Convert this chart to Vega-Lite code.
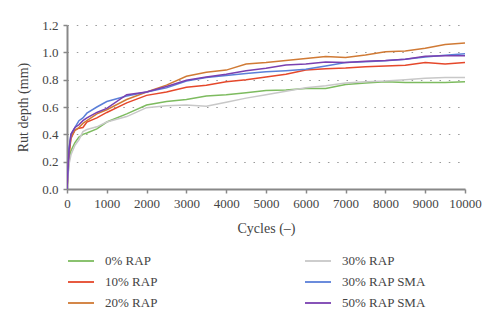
{
  "$schema": "https://vega.github.io/schema/vega-lite/v6.json",
  "autosize": "none",
  "width": 398,
  "height": 164,
  "padding": {"left": 67, "top": 25, "right": 35, "bottom": 135},
  "background": "white",
  "config": {
    "font": "Liberation Serif",
    "view": {"stroke": null},
    "axis": {"labelFont": "Liberation Serif", "titleFont": "Liberation Serif", "labelFontSize": 13, "titleFontSize": 14, "labelColor": "#444", "titleColor": "#444", "titleFontWeight": "normal"},
    "legend": {"labelFont": "Liberation Serif", "labelFontSize": 13, "labelColor": "#444"}
  },
  "datasets": {
    "rut": [
      {"series": "0% RAP", "cycles": 0, "rut": 0}, {"series": "0% RAP", "cycles": 50, "rut": 0.2}, {"series": "0% RAP", "cycles": 100, "rut": 0.28}, {"series": "0% RAP", "cycles": 200, "rut": 0.34}, {"series": "0% RAP", "cycles": 300, "rut": 0.38}, {"series": "0% RAP", "cycles": 400, "rut": 0.4}, {"series": "0% RAP", "cycles": 500, "rut": 0.41}, {"series": "0% RAP", "cycles": 750, "rut": 0.44}, {"series": "0% RAP", "cycles": 1000, "rut": 0.49}, {"series": "0% RAP", "cycles": 1500, "rut": 0.55}, {"series": "0% RAP", "cycles": 2000, "rut": 0.615}, {"series": "0% RAP", "cycles": 2500, "rut": 0.64}, {"series": "0% RAP", "cycles": 3000, "rut": 0.655}, {"series": "0% RAP", "cycles": 3500, "rut": 0.68}, {"series": "0% RAP", "cycles": 4000, "rut": 0.69}, {"series": "0% RAP", "cycles": 4500, "rut": 0.705}, {"series": "0% RAP", "cycles": 5000, "rut": 0.72}, {"series": "0% RAP", "cycles": 5500, "rut": 0.725}, {"series": "0% RAP", "cycles": 6000, "rut": 0.735}, {"series": "0% RAP", "cycles": 6500, "rut": 0.735}, {"series": "0% RAP", "cycles": 7000, "rut": 0.765}, {"series": "0% RAP", "cycles": 7500, "rut": 0.775}, {"series": "0% RAP", "cycles": 8000, "rut": 0.785}, {"series": "0% RAP", "cycles": 8500, "rut": 0.78}, {"series": "0% RAP", "cycles": 9000, "rut": 0.78}, {"series": "0% RAP", "cycles": 9500, "rut": 0.78}, {"series": "0% RAP", "cycles": 10000, "rut": 0.785},

      {"series": "10% RAP", "cycles": 0, "rut": 0}, {"series": "10% RAP", "cycles": 50, "rut": 0.25}, {"series": "10% RAP", "cycles": 100, "rut": 0.37}, {"series": "10% RAP", "cycles": 200, "rut": 0.43}, {"series": "10% RAP", "cycles": 300, "rut": 0.445}, {"series": "10% RAP", "cycles": 400, "rut": 0.45}, {"series": "10% RAP", "cycles": 500, "rut": 0.49}, {"series": "10% RAP", "cycles": 750, "rut": 0.52}, {"series": "10% RAP", "cycles": 1000, "rut": 0.56}, {"series": "10% RAP", "cycles": 1500, "rut": 0.63}, {"series": "10% RAP", "cycles": 2000, "rut": 0.685}, {"series": "10% RAP", "cycles": 2500, "rut": 0.71}, {"series": "10% RAP", "cycles": 3000, "rut": 0.745}, {"series": "10% RAP", "cycles": 3500, "rut": 0.76}, {"series": "10% RAP", "cycles": 4000, "rut": 0.785}, {"series": "10% RAP", "cycles": 4500, "rut": 0.8}, {"series": "10% RAP", "cycles": 5000, "rut": 0.82}, {"series": "10% RAP", "cycles": 5500, "rut": 0.84}, {"series": "10% RAP", "cycles": 6000, "rut": 0.87}, {"series": "10% RAP", "cycles": 6500, "rut": 0.88}, {"series": "10% RAP", "cycles": 7000, "rut": 0.885}, {"series": "10% RAP", "cycles": 7500, "rut": 0.895}, {"series": "10% RAP", "cycles": 8000, "rut": 0.9}, {"series": "10% RAP", "cycles": 8500, "rut": 0.905}, {"series": "10% RAP", "cycles": 9000, "rut": 0.925}, {"series": "10% RAP", "cycles": 9500, "rut": 0.915}, {"series": "10% RAP", "cycles": 10000, "rut": 0.925},

      {"series": "20% RAP", "cycles": 0, "rut": 0}, {"series": "20% RAP", "cycles": 50, "rut": 0.27}, {"series": "20% RAP", "cycles": 100, "rut": 0.38}, {"series": "20% RAP", "cycles": 200, "rut": 0.43}, {"series": "20% RAP", "cycles": 300, "rut": 0.45}, {"series": "20% RAP", "cycles": 400, "rut": 0.48}, {"series": "20% RAP", "cycles": 500, "rut": 0.5}, {"series": "20% RAP", "cycles": 750, "rut": 0.55}, {"series": "20% RAP", "cycles": 1000, "rut": 0.58}, {"series": "20% RAP", "cycles": 1500, "rut": 0.655}, {"series": "20% RAP", "cycles": 2000, "rut": 0.71}, {"series": "20% RAP", "cycles": 2500, "rut": 0.76}, {"series": "20% RAP", "cycles": 3000, "rut": 0.825}, {"series": "20% RAP", "cycles": 3500, "rut": 0.855}, {"series": "20% RAP", "cycles": 4000, "rut": 0.87}, {"series": "20% RAP", "cycles": 4500, "rut": 0.915}, {"series": "20% RAP", "cycles": 5000, "rut": 0.925}, {"series": "20% RAP", "cycles": 5500, "rut": 0.94}, {"series": "20% RAP", "cycles": 6000, "rut": 0.955}, {"series": "20% RAP", "cycles": 6500, "rut": 0.97}, {"series": "20% RAP", "cycles": 7000, "rut": 0.963}, {"series": "20% RAP", "cycles": 7500, "rut": 0.98}, {"series": "20% RAP", "cycles": 8000, "rut": 1.005}, {"series": "20% RAP", "cycles": 8500, "rut": 1.01}, {"series": "20% RAP", "cycles": 9000, "rut": 1.03}, {"series": "20% RAP", "cycles": 9500, "rut": 1.058}, {"series": "20% RAP", "cycles": 10000, "rut": 1.068},

      {"series": "30% RAP", "cycles": 0, "rut": 0}, {"series": "30% RAP", "cycles": 50, "rut": 0.18}, {"series": "30% RAP", "cycles": 100, "rut": 0.25}, {"series": "30% RAP", "cycles": 200, "rut": 0.32}, {"series": "30% RAP", "cycles": 300, "rut": 0.36}, {"series": "30% RAP", "cycles": 400, "rut": 0.42}, {"series": "30% RAP", "cycles": 500, "rut": 0.435}, {"series": "30% RAP", "cycles": 750, "rut": 0.455}, {"series": "30% RAP", "cycles": 1000, "rut": 0.49}, {"series": "30% RAP", "cycles": 1500, "rut": 0.53}, {"series": "30% RAP", "cycles": 2000, "rut": 0.595}, {"series": "30% RAP", "cycles": 2500, "rut": 0.61}, {"series": "30% RAP", "cycles": 3000, "rut": 0.615}, {"series": "30% RAP", "cycles": 3500, "rut": 0.605}, {"series": "30% RAP", "cycles": 4000, "rut": 0.635}, {"series": "30% RAP", "cycles": 4500, "rut": 0.665}, {"series": "30% RAP", "cycles": 5000, "rut": 0.69}, {"series": "30% RAP", "cycles": 5500, "rut": 0.715}, {"series": "30% RAP", "cycles": 6000, "rut": 0.74}, {"series": "30% RAP", "cycles": 6500, "rut": 0.755}, {"series": "30% RAP", "cycles": 7000, "rut": 0.775}, {"series": "30% RAP", "cycles": 7500, "rut": 0.785}, {"series": "30% RAP", "cycles": 8000, "rut": 0.79}, {"series": "30% RAP", "cycles": 8500, "rut": 0.8}, {"series": "30% RAP", "cycles": 9000, "rut": 0.81}, {"series": "30% RAP", "cycles": 9500, "rut": 0.815}, {"series": "30% RAP", "cycles": 10000, "rut": 0.815},

      {"series": "30% RAP SMA", "cycles": 0, "rut": 0}, {"series": "30% RAP SMA", "cycles": 50, "rut": 0.3}, {"series": "30% RAP SMA", "cycles": 100, "rut": 0.4}, {"series": "30% RAP SMA", "cycles": 200, "rut": 0.45}, {"series": "30% RAP SMA", "cycles": 300, "rut": 0.5}, {"series": "30% RAP SMA", "cycles": 400, "rut": 0.52}, {"series": "30% RAP SMA", "cycles": 500, "rut": 0.555}, {"series": "30% RAP SMA", "cycles": 750, "rut": 0.6}, {"series": "30% RAP SMA", "cycles": 1000, "rut": 0.64}, {"series": "30% RAP SMA", "cycles": 1500, "rut": 0.68}, {"series": "30% RAP SMA", "cycles": 2000, "rut": 0.71}, {"series": "30% RAP SMA", "cycles": 2500, "rut": 0.74}, {"series": "30% RAP SMA", "cycles": 3000, "rut": 0.79}, {"series": "30% RAP SMA", "cycles": 3500, "rut": 0.815}, {"series": "30% RAP SMA", "cycles": 4000, "rut": 0.83}, {"series": "30% RAP SMA", "cycles": 4500, "rut": 0.846}, {"series": "30% RAP SMA", "cycles": 5000, "rut": 0.858}, {"series": "30% RAP SMA", "cycles": 5500, "rut": 0.866}, {"series": "30% RAP SMA", "cycles": 6000, "rut": 0.876}, {"series": "30% RAP SMA", "cycles": 6500, "rut": 0.9}, {"series": "30% RAP SMA", "cycles": 7000, "rut": 0.925}, {"series": "30% RAP SMA", "cycles": 7500, "rut": 0.932}, {"series": "30% RAP SMA", "cycles": 8000, "rut": 0.939}, {"series": "30% RAP SMA", "cycles": 8500, "rut": 0.95}, {"series": "30% RAP SMA", "cycles": 9000, "rut": 0.965}, {"series": "30% RAP SMA", "cycles": 9500, "rut": 0.978}, {"series": "30% RAP SMA", "cycles": 10000, "rut": 0.99},

      {"series": "50% RAP SMA", "cycles": 0, "rut": 0}, {"series": "50% RAP SMA", "cycles": 50, "rut": 0.28}, {"series": "50% RAP SMA", "cycles": 100, "rut": 0.4}, {"series": "50% RAP SMA", "cycles": 200, "rut": 0.45}, {"series": "50% RAP SMA", "cycles": 300, "rut": 0.47}, {"series": "50% RAP SMA", "cycles": 400, "rut": 0.5}, {"series": "50% RAP SMA", "cycles": 500, "rut": 0.52}, {"series": "50% RAP SMA", "cycles": 750, "rut": 0.56}, {"series": "50% RAP SMA", "cycles": 1000, "rut": 0.59}, {"series": "50% RAP SMA", "cycles": 1500, "rut": 0.69}, {"series": "50% RAP SMA", "cycles": 2000, "rut": 0.71}, {"series": "50% RAP SMA", "cycles": 2500, "rut": 0.75}, {"series": "50% RAP SMA", "cycles": 3000, "rut": 0.795}, {"series": "50% RAP SMA", "cycles": 3500, "rut": 0.82}, {"series": "50% RAP SMA", "cycles": 4000, "rut": 0.84}, {"series": "50% RAP SMA", "cycles": 4500, "rut": 0.866}, {"series": "50% RAP SMA", "cycles": 5000, "rut": 0.883}, {"series": "50% RAP SMA", "cycles": 5500, "rut": 0.907}, {"series": "50% RAP SMA", "cycles": 6000, "rut": 0.915}, {"series": "50% RAP SMA", "cycles": 6500, "rut": 0.93}, {"series": "50% RAP SMA", "cycles": 7000, "rut": 0.925}, {"series": "50% RAP SMA", "cycles": 7500, "rut": 0.935}, {"series": "50% RAP SMA", "cycles": 8000, "rut": 0.94}, {"series": "50% RAP SMA", "cycles": 8500, "rut": 0.95}, {"series": "50% RAP SMA", "cycles": 9000, "rut": 0.972}, {"series": "50% RAP SMA", "cycles": 9500, "rut": 0.975}, {"series": "50% RAP SMA", "cycles": 10000, "rut": 0.975}
    ]
  },
  "data": {"name": "rut"},
  "mark": {"type": "line", "strokeWidth": 1.5, "clip": true},
  "encoding": {
    "x": {
      "field": "cycles", "type": "quantitative",
      "scale": {"domain": [0, 10000], "nice": false},
      "axis": {"title": "Cycles (–)", "values": [0,1000,2000,3000,4000,5000,6000,7000,8000,9000,10000], "format": "d", "grid": false, "domainColor": "#888", "domainWidth": 2, "tickColor": "#888", "tickWidth": 1.5, "tickSize": 4, "labelPadding": 4, "titlePadding": 11, "labelFlush": false}
    },
    "y": {
      "field": "rut", "type": "quantitative",
      "scale": {"domain": [0, 1.2], "nice": false},
      "axis": {"title": "Rut depth (mm)", "values": [0,0.2,0.4,0.6,0.8,1.0,1.2], "format": ".1f", "grid": true, "gridColor": "#999", "gridDash": [1.5, 7.8], "gridWidth": 1.2, "domainColor": "#888", "domainWidth": 2, "tickColor": "#888", "tickWidth": 1.5, "tickSize": 4, "labelPadding": 5, "titlePadding": 11}
    },
    "color": {
      "field": "series", "type": "nominal",
      "scale": {"domain": ["0% RAP", "10% RAP", "20% RAP", "30% RAP", "30% RAP SMA", "50% RAP SMA"], "range": ["#7dbb5f", "#e5482b", "#d07a35", "#c8c8c8", "#5b7fd8", "#7a40b0"]},
      "legend": {"title": null, "orient": "none", "legendX": 0, "legendY": 222, "columns": 2, "direction": "vertical", "symbolType": "stroke", "symbolSize": 676, "symbolStrokeWidth": 1.8, "symbolOffset": 0, "labelOffset": 10, "rowPadding": -2, "columnPadding": 112, "gridAlign": "all"}
    }
  }
}
